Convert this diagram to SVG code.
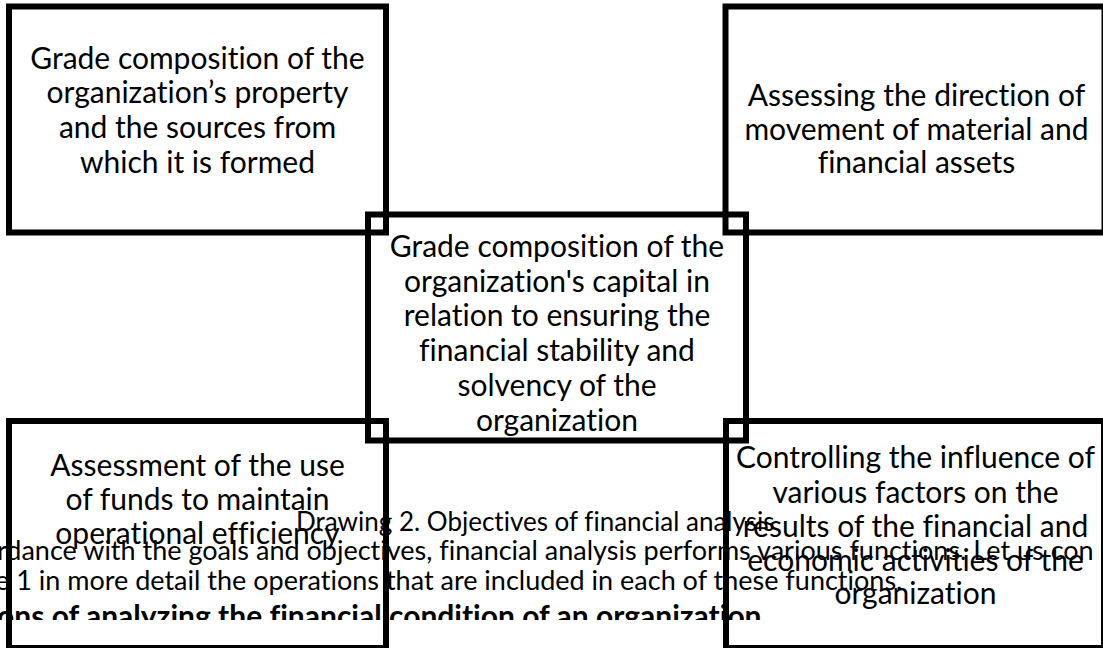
<svg xmlns="http://www.w3.org/2000/svg" width="1103" height="648" viewBox="0 0 1103 648">
<style>
.box{fill:none;stroke:#000;stroke-width:6}
.bt{font-family:Lato,"Open Sans",sans-serif;font-size:30px;fill:#000;text-anchor:middle;font-variant-ligatures:none}
.pt{font-family:Lato,"Open Sans",sans-serif;font-size:27px;fill:#000;font-variant-ligatures:none}
.cap{font-size:26px}
.bold{font-weight:bold;font-size:30px}
</style>
<defs>
<clipPath id="cut"><rect x="0" y="0" width="1103" height="620"/></clipPath>
</defs>
<rect width="1103" height="648" fill="#fff"/>
<g id="text-body">
<text class="pt cap" x="296" y="531">Drawing 2. Objectives of financial analysis</text>
<text class="pt" x="-3" y="560">rdance with the goals and objectives, financial analysis performs various functions. Let us con</text>
<text class="pt" x="-5" y="590">e 1 in more detail the operations that are included in each of these functions.</text>
<text class="pt bold" x="-3" y="627" clip-path="url(#cut)">ons of analyzing the financial condition of an organization</text>
</g>
<g id="node-property">
<rect class="box" x="9" y="6.5" width="377" height="226"/>
<text class="bt" x="197.5" y="69">Grade composition of the</text>
<text class="bt" x="197.5" y="103">organization’s property</text>
<text class="bt" x="197.5" y="138">and the sources from</text>
<text class="bt" x="197.5" y="173">which it is formed</text>
</g>
<g id="node-assets">
<rect class="box" x="725.5" y="6.5" width="379" height="226"/>
<text class="bt" x="916.5" y="106">Assessing the direction of</text>
<text class="bt" x="916.5" y="140">movement of material and</text>
<text class="bt" x="916.5" y="173">financial assets</text>
</g>
<g id="node-capital">
<rect class="box" x="368" y="214.5" width="378" height="226"/>
<text class="bt" x="557" y="257">Grade composition of the</text>
<text class="bt" x="557" y="292">organization's capital in</text>
<text class="bt" x="557" y="326">relation to ensuring the</text>
<text class="bt" x="557" y="361">financial stability and</text>
<text class="bt" x="557" y="396">solvency of the</text>
<text class="bt" x="557" y="431">organization</text>
</g>
<g id="node-funds">
<rect class="box" x="9" y="421" width="377" height="227"/>
<text class="bt" x="197.5" y="476">Assessment of the use</text>
<text class="bt" x="197.5" y="510">of funds to maintain</text>
<text class="bt" x="197.5" y="544">operational efficiency</text>
</g>
<g id="node-factors">
<rect class="box" x="726" y="421" width="378" height="227"/>
<text class="bt" x="915.5" y="468">Controlling the influence of</text>
<text class="bt" x="915.5" y="503">various factors on the</text>
<text class="bt" x="915.5" y="537">results of the financial and</text>
<text class="bt" x="915.5" y="571">economic activities of the</text>
<text class="bt" x="915.5" y="604">organization</text>
</g>
<g id="connectors"></g>
</svg>
